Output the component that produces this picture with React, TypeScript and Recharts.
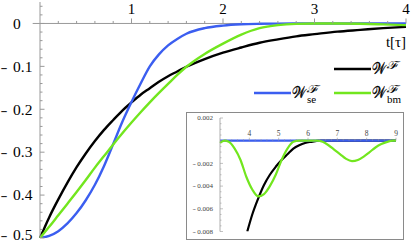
import React from 'react'
import { LineChart, Line, XAxis, YAxis, ReferenceLine, Legend } from 'recharts'

// main plot: t in units of tau
const tMain = [0, 0.1, 0.2, 0.3, 0.4, 0.5, 0.6, 0.7, 0.8, 0.9, 1.0, 1.1, 1.2, 1.3, 1.4, 1.5, 1.6, 1.8, 2.0, 2.2, 2.4, 2.6, 2.8, 3.0, 3.25, 3.5, 3.75, 4.0]
const wTotal = [-0.5, -0.452, -0.41, -0.371, -0.335, -0.303, -0.274, -0.248, -0.225, -0.203, -0.184, -0.166, -0.151, -0.136, -0.123, -0.112, -0.101, -0.083, -0.068, -0.056, -0.045, -0.037, -0.03, -0.025, -0.019, -0.015, -0.011, -0.008]
const wSe = [-0.5, -0.495, -0.484, -0.466, -0.442, -0.412, -0.376, -0.332, -0.281, -0.229, -0.183, -0.14, -0.1, -0.072, -0.051, -0.036, -0.024, -0.011, -0.005, -0.002, -0.0008, -0.0003, -0.0001, 0, 0, 0, 0, 0]
const wBm = [-0.5, -0.474, -0.447, -0.42, -0.393, -0.365, -0.336, -0.309, -0.282, -0.256, -0.231, -0.207, -0.184, -0.162, -0.141, -0.12, -0.101, -0.071, -0.047, -0.026, -0.011, -0.004, -0.001, -0.0002, -0.0001, -0.0007, -0.0022, -0.0039]

// inset: late times
const tInsetTotal = [3.93, 4.1, 4.3, 4.5, 4.7, 4.9, 5.1, 5.3, 5.5, 5.7, 5.9, 6.1, 6.4, 7, 8, 9]
const wInsetTotal = [-0.008, -0.0065, -0.0051, -0.0039, -0.003, -0.0023, -0.0017, -0.0012, -0.0007, -0.0004, -0.0002, -0.0001, 0, 0, 0, 0]
const tInsetSe = [3, 9]
const wInsetSe = [0, 0]
const tInsetBm = [3.0, 3.15, 3.3, 3.5, 3.7, 3.9, 4.1, 4.3, 4.5, 4.7, 4.9, 5.1, 5.3, 5.5, 5.7, 6.0, 6.3, 6.5, 6.7, 6.9, 7.1, 7.3, 7.5, 7.7, 7.9, 8.1, 8.3, 8.5, 8.7, 8.9, 9.0]
const wInsetBm = [-0.0002, 0, -0.0001, -0.0007, -0.0017, -0.0032, -0.0043, -0.0049, -0.0047, -0.004, -0.003, -0.0017, -0.0007, -0.0001, 0, 0, 0, -0.0001, -0.0004, -0.0008, -0.0012, -0.0016, -0.0018, -0.0017, -0.0014, -0.001, -0.0006, -0.0003, -0.0001, 0, 0]

// ticks
const xTicksMain = [0, 0.2, 0.4, 0.6, 0.8, 1, 1.2, 1.4, 1.6, 1.8, 2, 2.2, 2.4, 2.6, 2.8, 3, 3.2, 3.4, 3.6, 3.8, 4]
const xMajorMain = [1, 2, 3, 4]
const xLabelsMain = ['1', '2', '3', '4']
const yTicksMain = [-0.5, -0.48, -0.46, -0.44, -0.42, -0.4, -0.38, -0.36, -0.34, -0.32, -0.3, -0.28, -0.26, -0.24, -0.22, -0.2, -0.18, -0.16, -0.14, -0.12, -0.1, -0.08, -0.06, -0.04, -0.02, 0, 0.02, 0.04]
const yMajorMain = [0, -0.1, -0.2, -0.3, -0.4, -0.5]
const yLabelsMain = ['0', '0.1', '0.2', '0.3', '0.4', '0.5']

const xTicksInset = [3, 3.2, 3.4, 3.6, 3.8, 4, 4.2, 4.4, 4.6, 4.8, 5, 5.2, 5.4, 5.6, 5.8, 6, 6.2, 6.4, 6.6, 6.8, 7, 7.2, 7.4, 7.6, 7.8, 8, 8.2, 8.4, 8.6, 8.8, 9]
const xMajorInset = [4, 5, 6, 7, 8, 9]
const xLabelsInset = ['4', '5', '6', '7', '8', '9']
const yTicksInset = [-0.008, -0.0075, -0.007, -0.0065, -0.006, -0.0055, -0.005, -0.0045, -0.004, -0.0035, -0.003, -0.0025, -0.002, -0.0015, -0.001, -0.0005, 0, 0.0005, 0.001, 0.0015, 0.002]
const yMajorInset = [0.002, -0.002, -0.004, -0.006, -0.008]
const yLabelsInset = ['0.002', '0.002', '0.004', '0.006', '0.008']

const mainData = tMain.map((t, i) => ({ t, total: wTotal[i], se: wSe[i], bm: wBm[i] }))
const toPts = (ts: number[], ws: number[]) => ts.map((t, i) => ({ t, w: ws[i] }))

const BLACK = '#000000'
const BLUE = '#3b5ef0'
const GREEN = '#72e61e'
const AXIS = '#999999'
const FONT = '"Liberation Serif", "DejaVu Serif", serif'

const W = 416
const H = 243
const M = { top: 1, right: 10, bottom: 5, left: 0 }
const XH = 1
const YW = 40
const Y_DOM: [number, number] = [-0.5, 0.05]
const PLOT_TOP = M.top + XH
const Y0 = PLOT_TOP + ((H - PLOT_TOP - M.bottom) * Y_DOM[1]) / (Y_DOM[1] - Y_DOM[0])

const IW = 216
const IH = 126
const IM = { top: 4, right: 7, bottom: 7.5, left: 0 }
const IYW = 33
const IY_DOM: [number, number] = [-0.008, 0.002]
const IPLOT_TOP = IM.top + XH
const IY0 = IPLOT_TOP + ((IH - IPLOT_TOP - IM.bottom) * IY_DOM[1]) / (IY_DOM[1] - IY_DOM[0])

const find = (arr: number[], v: number) => arr.findIndex((m) => Math.abs(m - v) < 1e-9)

function MainXTick({ x, payload }: any) {
  const v = payload.value
  if (Math.abs(v) < 1e-9) return null
  const i = find(xMajorMain, v)
  if (i < 0) return <line x1={x} x2={x} y1={Y0} y2={Y0 - 2.5} stroke={AXIS} />
  return (
    <g>
      <line x1={x} x2={x} y1={Y0} y2={Y0 - 5} stroke={AXIS} />
      <text x={x} y={Y0 - 9.5} textAnchor="middle" fontFamily={FONT} fontSize={15} fill="#000">
        {xLabelsMain[i]}
      </text>
    </g>
  )
}

function MainYTick({ y, payload }: any) {
  const v = Number(payload.value)
  const i = find(yMajorMain, v)
  if (i < 0) return <line x1={YW} x2={YW + 2.5} y1={y} y2={y} stroke={AXIS} />
  const neg = v < -1e-9
  // keep the lowest label inside the picture, as the original does
  const ly = Math.min(y, H - 8)
  return (
    <g>
      <line x1={YW} x2={YW + 4.5} y1={y} y2={y} stroke={AXIS} />
      <text y={ly} dy="0.34em" fontFamily={FONT} fontSize={15.5} fill="#000">
        {neg && (
          <tspan x={0.5} textLength={7} lengthAdjust="spacingAndGlyphs" fill="#222">
            -
          </tspan>
        )}
        <tspan x={13}>{yLabelsMain[i]}</tspan>
      </text>
    </g>
  )
}

function InsetXTick({ x, payload }: any) {
  const v = payload.value
  if (Math.abs(v - 3) < 1e-9) return null
  const i = find(xMajorInset, v)
  if (i < 0) return <line x1={x} x2={x} y1={IY0} y2={IY0 - 1.5} stroke={AXIS} strokeWidth={0.6} />
  return (
    <g>
      <line x1={x} x2={x} y1={IY0} y2={IY0 - 3} stroke={AXIS} strokeWidth={0.6} />
      <text x={x} y={IY0 - 4.5} textAnchor="middle" fontFamily={FONT} fontSize={7.5} fill="#444">
        {xLabelsInset[i]}
      </text>
    </g>
  )
}

function InsetYTick({ y, payload }: any) {
  const v = Number(payload.value)
  const i = find(yMajorInset, v)
  if (i < 0) return <line x1={IYW} x2={IYW + 1.5} y1={y} y2={y} stroke={AXIS} strokeWidth={0.6} />
  const neg = v < -1e-9
  return (
    <g>
      <line x1={IYW} x2={IYW + 3} y1={y} y2={y} stroke={AXIS} strokeWidth={0.6} />
      <text y={y} dy="0.34em" fontFamily={FONT} fontSize={7} fill="#444">
        {neg && (
          <tspan x={IYW - 27.5} textLength={3.5} lengthAdjust="spacingAndGlyphs">
            -
          </tspan>
        )}
        <tspan x={IYW - 7} textAnchor="end">
          {yLabelsInset[i]}
        </tspan>
      </text>
    </g>
  )
}

const legendRows = [
  { color: BLACK, sub: '', x: 84, y: 13 },
  { color: BLUE, sub: 'se', x: 4, y: 37 },
  { color: GREEN, sub: 'bm', x: 84, y: 37 },
]

function LegendBox() {
  return (
    <svg width={166} height={52} style={{ overflow: 'visible' }}>
      {legendRows.map((r) => (
        <g key={r.color}>
          <line x1={r.x} x2={r.x + 37} y1={r.y} y2={r.y} stroke={r.color} strokeWidth={2.4} />
          <text
            x={r.x + 38}
            y={r.y + 5}
            fontFamily={FONT}
            fontSize={16}
            fill="#000"
            stroke="#000"
            strokeWidth={0.3}
            textLength={14}
            lengthAdjust="spacingAndGlyphs"
          >
            {'\u{1D4B2}'}
          </text>
          <text
            x={r.x + 53}
            y={r.y - 0.5}
            fontFamily={FONT}
            fontSize={11}
            fill="#000"
            textLength={13}
            lengthAdjust="spacingAndGlyphs"
          >
            {'\u2131'}
          </text>
          {r.sub && (
            <text x={r.x + 53} y={r.y + 10} fontFamily={FONT} fontSize={11} fill="#000">
              {r.sub}
            </text>
          )}
        </g>
      ))}
    </svg>
  )
}

export default function App() {
  return (
    <div style={{ position: 'absolute', left: 0, top: 0, width: W, height: H, background: '#fff' }}>
      <LineChart width={W} height={H} data={mainData} margin={M}>
        <XAxis
          dataKey="t"
          type="number"
          domain={[0, 4]}
          ticks={xTicksMain}
          interval={0}
          orientation="top"
          height={XH}
          axisLine={false}
          tickLine={false}
          tick={<MainXTick />}
        />
        <YAxis
          type="number"
          domain={Y_DOM}
          ticks={yTicksMain}
          interval={0}
          width={YW}
          allowDataOverflow
          axisLine={{ stroke: AXIS }}
          tickLine={false}
          tick={<MainYTick />}
        />
        <ReferenceLine
          segment={[{ x: -0.08, y: 0 }, { x: 4, y: 0 }]}
          stroke={AXIS}
          ifOverflow="visible"
        />
        <Line dataKey="total" type="monotone" stroke={BLACK} strokeWidth={2.4} dot={false} isAnimationActive={false} />
        <Line dataKey="se" type="monotone" stroke={BLUE} strokeWidth={2.4} dot={false} isAnimationActive={false} />
        <Line dataKey="bm" type="monotone" stroke={GREEN} strokeWidth={2.4} dot={false} isAnimationActive={false} />
        <Legend
          layout="horizontal"
          verticalAlign="middle"
          align="center"
          content={<LegendBox />}
          wrapperStyle={{ left: 250, top: 56, width: 166, height: 52 }}
        />
        <text x={396} y={47} textAnchor="middle" fontFamily={FONT} fontSize={15} fill="#000">
          t[τ]
        </text>
      </LineChart>
      <div
        style={{
          position: 'absolute',
          left: 186,
          top: 112,
          width: IW,
          height: IH,
          border: '1px solid #8a8a8a',
          background: '#fff',
        }}
      >
        <LineChart width={IW} height={IH} margin={IM}>
          <XAxis
            dataKey="t"
            type="number"
            domain={[3, 9]}
            ticks={xTicksInset}
            interval={0}
            orientation="top"
            height={XH}
            axisLine={false}
            tickLine={false}
            tick={<InsetXTick />}
          />
          <YAxis
            dataKey="w"
            type="number"
            domain={IY_DOM}
            ticks={yTicksInset}
            interval={0}
            width={IYW}
            allowDataOverflow
            axisLine={{ stroke: AXIS, strokeWidth: 0.8 }}
            tickLine={false}
            tick={<InsetYTick />}
          />
          <ReferenceLine y={0} stroke={AXIS} />
          <Line data={toPts(tInsetTotal, wInsetTotal)} dataKey="w" type="monotone" stroke={BLACK} strokeWidth={2.2} dot={false} isAnimationActive={false} />
          <Line data={toPts(tInsetSe, wInsetSe)} dataKey="w" type="monotone" stroke={BLUE} strokeWidth={2.2} dot={false} isAnimationActive={false} />
          <Line data={toPts(tInsetBm, wInsetBm)} dataKey="w" type="monotone" stroke={GREEN} strokeWidth={2.2} dot={false} isAnimationActive={false} />
        </LineChart>
      </div>
    </div>
  )
}
